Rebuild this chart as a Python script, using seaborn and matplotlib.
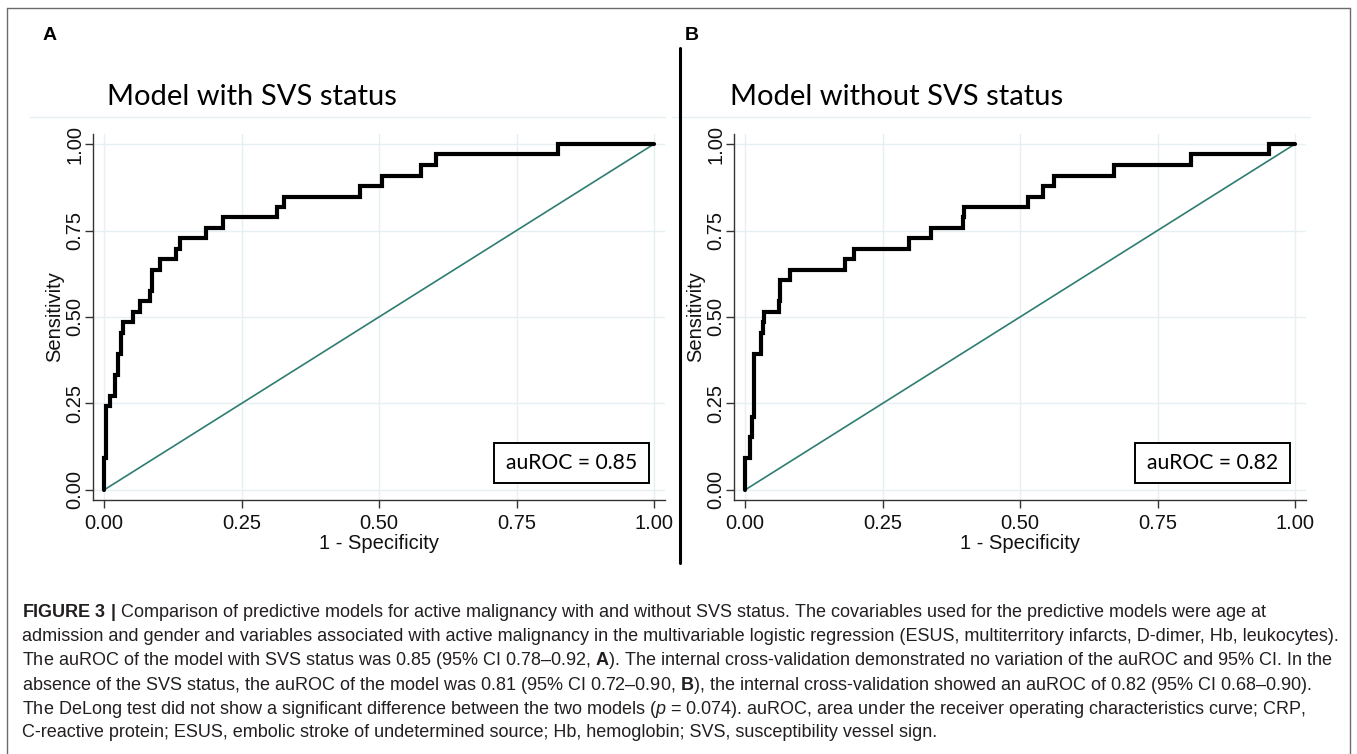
import matplotlib
matplotlib.use("Agg")
import matplotlib.pyplot as plt
import seaborn as sns
from matplotlib.patches import Rectangle
from matplotlib.lines import Line2D

# ---------------- data ----------------
fpr_a = [0.0, 0.0, 0.003, 0.003, 0.010, 0.010, 0.020, 0.020, 0.026, 0.026, 0.030, 0.030,
         0.034, 0.034, 0.053, 0.053, 0.065, 0.065, 0.084, 0.084, 0.088, 0.088, 0.102, 0.102,
         0.131, 0.131, 0.139, 0.139, 0.185, 0.185, 0.216, 0.216, 0.314, 0.314, 0.328, 0.328,
         0.465, 0.465, 0.505, 0.505, 0.576, 0.576, 0.604, 0.604, 0.825, 0.825, 1.0]
tpr_a = [0.0, 0.091, 0.091, 0.242, 0.242, 0.273, 0.273, 0.333, 0.333, 0.394, 0.394, 0.455,
         0.455, 0.485, 0.485, 0.515, 0.515, 0.545, 0.545, 0.576, 0.576, 0.636, 0.636, 0.667,
         0.667, 0.697, 0.697, 0.727, 0.727, 0.758, 0.758, 0.788, 0.788, 0.818, 0.818, 0.848,
         0.848, 0.879, 0.879, 0.909, 0.909, 0.939, 0.939, 0.970, 0.970, 1.0, 1.0]

fpr_b = [0.0, 0.0, 0.009, 0.009, 0.013, 0.013, 0.017, 0.017, 0.029, 0.029, 0.032, 0.032,
         0.034, 0.034, 0.061, 0.061, 0.064, 0.064, 0.081, 0.081, 0.181, 0.181, 0.198, 0.198,
         0.299, 0.299, 0.338, 0.338, 0.397, 0.397, 0.399, 0.399, 0.514, 0.514, 0.542, 0.542,
         0.561, 0.561, 0.670, 0.670, 0.810, 0.810, 0.953, 0.953, 1.0]
tpr_b = [0.0, 0.091, 0.091, 0.152, 0.152, 0.212, 0.212, 0.394, 0.394, 0.455, 0.455, 0.485,
         0.485, 0.515, 0.515, 0.545, 0.545, 0.606, 0.606, 0.636, 0.636, 0.667, 0.667, 0.697,
         0.697, 0.727, 0.727, 0.758, 0.758, 0.788, 0.788, 0.818, 0.818, 0.848, 0.848, 0.879,
         0.879, 0.909, 0.909, 0.939, 0.939, 0.970, 0.970, 1.0, 1.0]

diag_x = [0.0, 1.0]
diag_y = [0.0, 1.0]

ticks = [0.0, 0.25, 0.5, 0.75, 1.0]
tick_labels = ["0.00", "0.25", "0.50", "0.75", "1.00"]
panel_letters = ["A", "B"]
titles = ["Model with SVS status", "Model without SVS status"]
auroc_labels = ["auROC = 0.85", "auROC = 0.82"]
x_label = "1 - Specificity"
y_label = "Sensitivity"

caption_lines = [
    r"$\mathbf{FIGURE\ 3\ |}$ Comparison of predictive models for active malignancy with and without SVS status. The covariables used for the predictive models were age at",
    "admission and gender and variables associated with active malignancy in the multivariable logistic regression (ESUS, multiterritory infarcts, D-dimer, Hb, leukocytes).",
    r"The auROC of the model with SVS status was 0.85 (95% CI 0.78–0.92, $\mathbf{A}$). The internal cross-validation demonstrated no variation of the auROC and 95% CI. In the",
    r"absence of the SVS status, the auROC of the model was 0.81 (95% CI 0.72–0.90, $\mathbf{B}$), the internal cross-validation showed an auROC of 0.82 (95% CI 0.68–0.90).",
    r"The DeLong test did not show a significant difference between the two models ($\mathit{p}$ = 0.074). auROC, area under the receiver operating characteristics curve; CRP,",
    "C-reactive protein; ESUS, embolic stroke of undetermined source; Hb, hemoglobin; SVS, susceptibility vessel sign.",
]

# ---------------- style ----------------
sns.set_theme(style="white")
plt.rcParams['font.family'] = ['Liberation Sans', 'DejaVu Sans']
plt.rcParams['mathtext.fontset'] = 'custom'
plt.rcParams['mathtext.rm'] = 'Liberation Sans'
plt.rcParams['mathtext.bf'] = 'Liberation Sans:bold'
plt.rcParams['mathtext.it'] = 'Liberation Sans:italic'

W, H, DPI = 1357, 754, 100
fig = plt.figure(figsize=(W / DPI, H / DPI), dpi=DPI)
fig.patch.set_facecolor("white")


def fx(px):
    return px / W


def fy(py):
    return 1 - py / H


GRID = "#E6EFF1"
AXC = "#333333"
TEAL = "#2E7D70"

panels = [
    dict(left=93, fpr=fpr_a, tpr=tpr_a, title_x=107, letter_x=50, region=(30, 665)),
    dict(left=734, fpr=fpr_b, tpr=tpr_b, title_x=730, letter_x=692, region=(672, 1310)),
]

for i, p in enumerate(panels):
    ax = fig.add_axes([fx(p["left"]), fy(500), 572 / W, 366 / H])
    ax.set_facecolor("white")
    sns.lineplot(x=diag_x, y=diag_y, ax=ax, color=TEAL, linewidth=1.2,
                 sort=False, estimator=None, zorder=2)
    sns.lineplot(x=p["fpr"], y=p["tpr"], ax=ax, color="black", linewidth=3.0,
                 sort=False, estimator=None, zorder=3, solid_joinstyle="miter")
    ax.set_xlim(-0.02, 1.02)
    ax.set_ylim(-0.029, 1.029)
    ax.set_xticks(ticks)
    ax.set_yticks(ticks)
    ax.set_xticklabels(tick_labels)
    ax.set_yticklabels(tick_labels, rotation=90, va="center")
    ax.grid(True, color=GRID, linewidth=1.0, zorder=0)
    ax.set_axisbelow(True)
    for s in ["top", "right"]:
        ax.spines[s].set_visible(False)
    for s in ["left", "bottom"]:
        ax.spines[s].set_color(AXC)
        ax.spines[s].set_linewidth(1.0)
    ax.tick_params(axis="both", direction="out", length=6, width=1.0, color=AXC,
                   labelsize=14.5, labelcolor="#111111", left=True, bottom=True)
    ax.tick_params(axis="x", pad=4)
    ax.tick_params(axis="y", pad=0)
    ax.set_xlabel(x_label, fontsize=14.5, color="#111111", labelpad=1)
    ax.set_ylabel(y_label, fontsize=14.5, color="#111111", labelpad=1)

    # auROC box
    ax.add_patch(Rectangle((0.709, 0.021), 0.282, 0.115, facecolor="white",
                           edgecolor="black", linewidth=1.4, zorder=5))
    ax.text(0.850, 0.078, auroc_labels[i], fontsize=15.2, family="Lato",
            ha="center", va="center", color="black", zorder=6)

    # title and panel letter
    fig.text(fx(p["title_x"]), fy(105), titles[i], fontsize=21, family="Lato",
             ha="left", va="baseline", color="black")
    fig.text(fx(p["letter_x"]), fy(35), panel_letters[i], fontsize=14,
             fontweight="bold", ha="center", va="center", color="black")
    # faint plot region top line
    fig.add_artist(Line2D([fx(p["region"][0]), fx(p["region"][1])], [fy(117), fy(117)],
                          color=GRID, linewidth=1.0))

# divider line
fig.add_artist(Line2D([fx(680), fx(680)], [fy(48), fy(563)], color="black", linewidth=2.2))

# outer frame (top, left, right)
frame = "#6b6b6b"
fig.add_artist(Line2D([fx(7), fx(1350)], [fy(8), fy(8)], color=frame, linewidth=1.0))
fig.add_artist(Line2D([fx(7), fx(7)], [fy(8), 0], color=frame, linewidth=1.0))
fig.add_artist(Line2D([fx(1350), fx(1350)], [fy(8), 0], color=frame, linewidth=1.0))

# caption
fig.canvas.draw()
rend = fig.canvas.get_renderer()
probe = fig.text(0, 0, caption_lines[2], fontsize=12)
wpx = probe.get_window_extent(rend).width
probe.remove()
cap_fs = 12 * (1313 / wpx)
baselines = [617, 641, 665, 690, 714, 737]
for line, b in zip(caption_lines, baselines):
    fig.text(fx(22), fy(b), line, fontsize=cap_fs, color="#231f20",
             ha="left", va="baseline")

fig.savefig("out.png", dpi=DPI, facecolor="white")
